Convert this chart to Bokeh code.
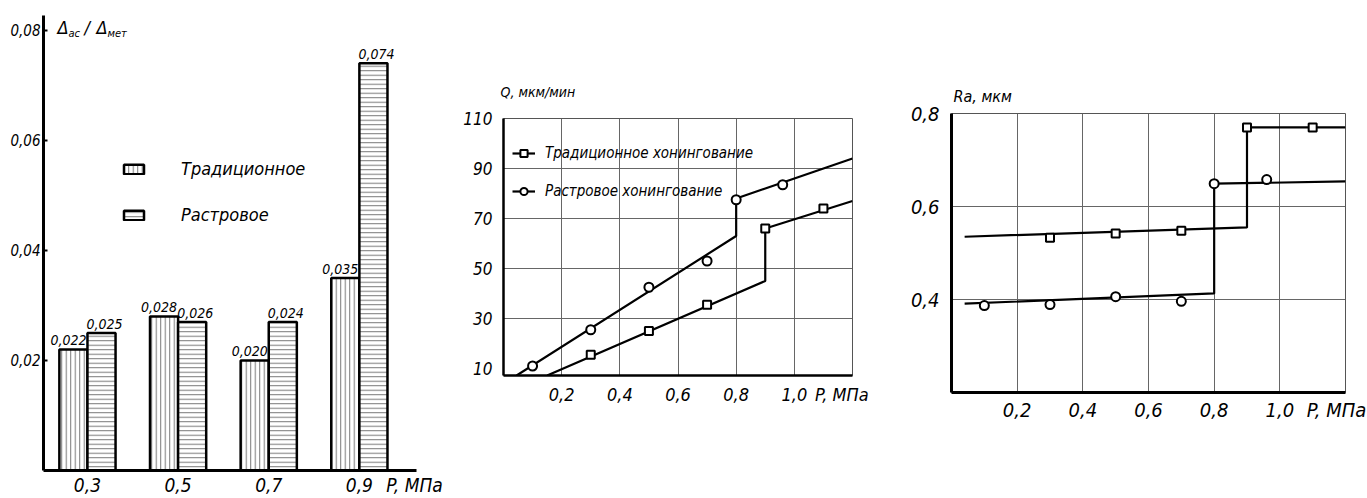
from bokeh.plotting import figure
from bokeh.layouts import row
from bokeh.models import Range1d, FixedTicker, Legend, LegendItem, Label, ColumnDataSource
from bokeh.embed import file_html
from bokeh.resources import INLINE
from bokeh.core.properties import value

FONT = "DejaVu Sans Condensed"

# ---------------- Panel 1 data (bar chart) ----------------
bar_pressure = [0.3, 0.5, 0.7, 0.9]
bar_tick_labels = ["0,3", "0,5", "0,7", "0,9"]
trad_ratio = [0.022, 0.028, 0.020, 0.035]
raster_ratio = [0.025, 0.027, 0.027, 0.074]
trad_ratio_labels = ["0,022", "0,028", "0,020", "0,035"]
raster_ratio_labels = ["0,025", "0,026", "0,024", "0,074"]
ratio_ticks = [0.02, 0.04, 0.06, 0.08]
ratio_tick_labels = ["0,02", "0,04", "0,06", "0,08"]
series_names = ["Традиционное", "Растровое"]

# ---------------- Panel 2 data (productivity Q) ----------------
q_p_trad = [0.3, 0.5, 0.7, 0.9, 1.1]
q_trad = [15.5, 25.0, 35.5, 66.0, 74.0]
q_p_rast = [0.1, 0.3, 0.5, 0.7, 0.8, 0.96]
q_rast = [11.0, 25.5, 42.5, 53.0, 77.5, 83.5]
q_fit_trad_p = [0.15, 0.9, 0.9, 1.2]
q_fit_trad = [7.2, 45.0, 66.0, 77.0]
q_fit_rast_p = [0.045, 0.8, 0.8, 1.2]
q_fit_rast = [7.2, 63.0, 78.0, 94.0]
q_ticks = [10, 30, 50, 70, 90, 110]
q_grid = [30, 50, 70, 90]
line_names = ["Традиционное хонингование", "Растровое хонингование"]

# ---------------- Panel 3 data (roughness Ra) ----------------
ra_p_trad = [0.3, 0.5, 0.7, 0.9, 1.1]
ra_trad = [0.533, 0.542, 0.548, 0.77, 0.77]
ra_p_rast = [0.1, 0.3, 0.5, 0.7, 0.8, 0.96]
ra_rast = [0.387, 0.389, 0.406, 0.396, 0.649, 0.658]
ra_fit_trad_p = [0.04, 0.9, 0.9, 1.2]
ra_fit_trad = [0.535, 0.555, 0.77, 0.77]
ra_fit_rast_p = [0.04, 0.8, 0.8, 1.2]
ra_fit_rast = [0.391, 0.413, 0.649, 0.654]
ra_ticks = [0.4, 0.6, 0.8]
ra_tick_labels = ["0,4", "0,6", "0,8"]
ra_grid = [0.4, 0.6]

p_ticks = [0.2, 0.4, 0.6, 0.8, 1.0]
p_tick_labels = ["0,2", "0,4", "0,6", "0,8", "1,0"]
p_axis_name = "P, МПа"


def px2data(geom, px, py):
    left, right, top, bottom, x0, x1, y0, y1 = geom
    x = x0 + (px - left) / (right - left) * (x1 - x0)
    y = y0 + (bottom - py) / (bottom - top) * (y1 - y0)
    return x, y


def add_label(p, geom, px, py, text, size, align="left"):
    x, y = px2data(geom, px, py)
    p.add_layout(Label(x=x, y=y, text=text, text_font=FONT, text_font_style="italic",
                       text_font_size=size, text_baseline="middle", text_align=align,
                       text_color="black"))


def make_fig(geom, width, height, left, right, top, bottom, title=""):
    p = figure(width=width, height=height,
               x_range=Range1d(geom[4], geom[5]), y_range=Range1d(geom[6], geom[7]),
               output_backend="svg", toolbar_location=None, title=title,
               min_border_left=left, min_border_right=right,
               min_border_top=top, min_border_bottom=bottom)
    if "frame_align" in p.properties():
        p.frame_align = False
    p.title.text_font = FONT
    p.title.text_font_style = "italic"
    p.title.text_color = "black"
    p.title.align = "left"
    return p


def style_axes(p, xsize, ysize, xstand, ystand):
    for ax in (p.xaxis[0], p.yaxis[0]):
        ax.major_label_text_font = FONT
        ax.major_label_text_font_style = "italic"
        ax.major_label_text_color = "black"
        ax.minor_tick_line_color = None
        ax.minor_tick_out = 0
        ax.minor_tick_in = 0
        ax.axis_line_color = "black"
    p.xaxis.major_tick_out = 0
    p.xaxis.major_tick_in = 0
    p.xaxis.major_tick_line_color = None
    p.xaxis.major_label_text_font_size = xsize
    p.yaxis.major_label_text_font_size = ysize
    p.xaxis.major_label_standoff = xstand
    p.yaxis.major_label_standoff = ystand


# =============== Panel 1 ===============
g1 = (43, 440, 15, 472, 0.203, 1.079, 0.0, 0.0827)
p1 = make_fig(g1, 460, 498, 43, 20, 15, 26)
p1.outline_line_color = None
p1.grid.visible = False
bw = 0.062
src_t = ColumnDataSource(dict(x=[v - bw / 2 for v in bar_pressure], top=trad_ratio, lab=trad_ratio_labels))
src_r = ColumnDataSource(dict(x=[v + bw / 2 for v in bar_pressure], top=raster_ratio, lab=raster_ratio_labels))
r_t = p1.vbar(x="x", top="top", width=bw, source=src_t, fill_color="white", line_color="black",
              line_width=2.5, hatch_pattern="vertical_line", hatch_color="#777", hatch_scale=4.5,
              hatch_weight=1)
r_r = p1.vbar(x="x", top="top", width=bw, source=src_r, fill_color="white", line_color="black",
              line_width=2.5, hatch_pattern="horizontal_line", hatch_color="#777", hatch_scale=4.5,
              hatch_weight=1)
p1.text(x="x", y="top", text="lab", source=src_t, text_align="center", text_baseline="bottom",
        x_offset=-5, y_offset=-4, text_font=value(FONT), text_font_style="italic",
        text_font_size="14px", text_color="black")
p1.text(x="x", y="top", text="lab", source=src_r, text_align="center", text_baseline="bottom",
        x_offset=3, y_offset=-4, text_font=value(FONT), text_font_style="italic",
        text_font_size="14px", text_color="black")
style_axes(p1, "19px", "15px", 3, 3)
p1_name_tick = px2data(g1, 414, 0)[0]
p1.xaxis.ticker = FixedTicker(ticks=bar_pressure + [p1_name_tick])
p1.xaxis.major_label_overrides = {**dict(zip(bar_pressure, bar_tick_labels)), p1_name_tick: p_axis_name}
p1.xaxis.bounds = (g1[4], px2data(g1, 416, 0)[0])
p1.xaxis.axis_line_width = 3
p1.yaxis.ticker = FixedTicker(ticks=ratio_ticks)
p1.yaxis.major_label_overrides = dict(zip(ratio_ticks, ratio_tick_labels))
p1.yaxis.major_tick_in = 4
p1.yaxis.major_tick_out = 0
p1.yaxis.major_tick_line_width = 2
p1.yaxis.axis_line_width = 3
leg1 = Legend(items=[LegendItem(label=series_names[0], renderers=[r_t]),
                     LegendItem(label=series_names[1], renderers=[r_r])],
              location=(78, 245), glyph_width=25, glyph_height=12, label_height=20, spacing=25,
              label_standoff=35, padding=0, margin=0, border_line_color=None,
              background_fill_alpha=0, label_text_font=FONT, label_text_font_style="italic",
              label_text_font_size="18px", label_text_color="black")
p1.add_layout(leg1)
add_label(p1, g1, 57, 27, "Δ", "18px")
add_label(p1, g1, 68, 33, "ас", "11px")
add_label(p1, g1, 84, 27, "/", "18px")
add_label(p1, g1, 96, 27, "Δ", "18px")
add_label(p1, g1, 107, 33, "мет", "11px")

# =============== Panel 2 ===============
g2 = (495, 852, 118, 375, 0.0, 1.2, 7.2, 110.0)
p2 = make_fig(g2, 440, 498, 35, 48, 118, 123, title="Q, мкм/мин")
p2.title.text_font_size = "14px"
p2.title.offset = -3
p2.title.standoff = 38
p2.outline_line_color = "#555"
p2.outline_line_width = 1
p2.xgrid.ticker = FixedTicker(ticks=p_ticks)
p2.ygrid.ticker = FixedTicker(ticks=q_grid)
p2.grid.grid_line_color = "#666"
p2.grid.grid_line_width = 1
style_axes(p2, "18px", "17px", 8, 5)
p2_name_tick = px2data(g2, 841, 0)[0]
p2.xaxis.ticker = FixedTicker(ticks=p_ticks + [p2_name_tick])
p2.xaxis.major_label_overrides = {**dict(zip(p_ticks, p_tick_labels)), p2_name_tick: p_axis_name}
p2.yaxis.ticker = FixedTicker(ticks=q_ticks)
p2.yaxis.major_tick_line_color = None
p2.xaxis.axis_line_width = 2.5
p2.yaxis.axis_line_width = 2.5
l2t = p2.line(q_fit_trad_p, q_fit_trad, line_color="black", line_width=2.2)
s2t = p2.scatter(q_p_trad, q_trad, marker="square", size=8, fill_color="white",
                 line_color="black", line_width=2)
l2r = p2.line(q_fit_rast_p, q_fit_rast, line_color="black", line_width=2.2)
s2r = p2.scatter(q_p_rast, q_rast, marker="circle", size=9, fill_color="white",
                 line_color="black", line_width=2)
leg2 = Legend(items=[LegendItem(label=line_names[0], renderers=[l2t, s2t]),
                     LegendItem(label=line_names[1], renderers=[l2r, s2r])],
              location=(9, 175), glyph_width=23, glyph_height=18, label_height=18, spacing=20,
              label_standoff=10, padding=0, margin=0, border_line_color=None,
              background_fill_alpha=0, label_text_font=FONT, label_text_font_style="italic",
              label_text_font_size="15px", label_text_color="black")
p2.add_layout(leg2)

# =============== Panel 3 ===============
g3 = (951, 1345, 113, 392, 0.0, 1.2, 0.2, 0.8)
p3 = make_fig(g3, 467, 498, 51, 22, 113, 106, title="Ra, мкм")
p3.title.text_font_size = "16px"
p3.title.offset = 2
p3.title.standoff = 16
p3.outline_line_color = "#555"
p3.outline_line_width = 1
p3.xgrid.ticker = FixedTicker(ticks=p_ticks)
p3.ygrid.ticker = FixedTicker(ticks=ra_grid)
p3.grid.grid_line_color = "#666"
p3.grid.grid_line_width = 1
style_axes(p3, "20px", "20px", 5, 6)
p3_name_tick = px2data(g3, 1336, 0)[0]
p3.xaxis.ticker = FixedTicker(ticks=p_ticks + [p3_name_tick])
p3.xaxis.major_label_overrides = {**dict(zip(p_ticks, p_tick_labels)), p3_name_tick: p_axis_name}
p3.yaxis.ticker = FixedTicker(ticks=ra_ticks)
p3.yaxis.major_label_overrides = dict(zip(ra_ticks, ra_tick_labels))
p3.yaxis.major_tick_line_color = None
p3.xaxis.axis_line_width = 3
p3.yaxis.axis_line_width = 3
p3.line(ra_fit_trad_p, ra_fit_trad, line_color="black", line_width=2.2)
p3.scatter(ra_p_trad, ra_trad, marker="square", size=8, fill_color="white",
           line_color="black", line_width=2)
p3.line(ra_fit_rast_p, ra_fit_rast, line_color="black", line_width=2.2)
p3.scatter(ra_p_rast, ra_rast, marker="circle", size=9, fill_color="white",
           line_color="black", line_width=2)

layout = row(p1, p2, p3, spacing=0)
open("out.html", "w").write(file_html(layout, INLINE))
